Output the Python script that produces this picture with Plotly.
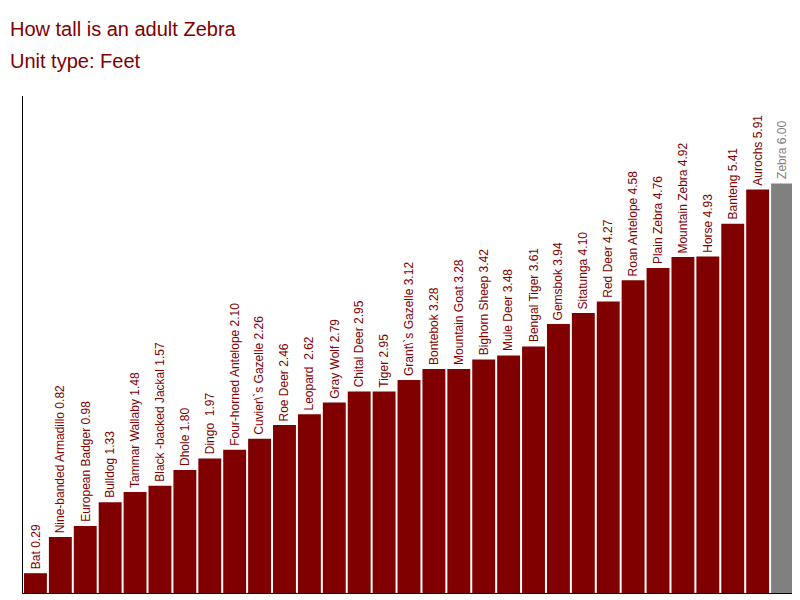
import plotly.graph_objects as go

animals = ["Bat", "Nine-banded Armadillo", "European Badger", "Bulldog", "Tammar Wallaby",
           "Black -backed Jackal", "Dhole", "Dingo ", "Four-horned Antelope", "Cuvier\\`s Gazelle",
           "Roe Deer", "Leopard ", "Gray Wolf", "Chital Deer", "Tiger", "Grant\\`s Gazelle",
           "Bontebok", "Mountain Goat", "Bighorn Sheep", "Mule Deer", "Bengal Tiger", "Gemsbok",
           "Sitatunga", "Red Deer", "Roan Antelope", "Plain Zebra", "Mountain Zebra", "Horse",
           "Banteng", "Aurochs", "Zebra"]
heights = [0.29, 0.82, 0.98, 1.33, 1.48, 1.57, 1.80, 1.97, 2.10, 2.26, 2.46, 2.62, 2.79, 2.95,
           2.95, 3.12, 3.28, 3.28, 3.42, 3.48, 3.61, 3.94, 4.10, 4.27, 4.58, 4.76, 4.92, 4.93,
           5.41, 5.91, 6.00]

xs = list(range(len(animals)))
colors = ["#800000"] * (len(animals) - 1) + ["#808080"]

fig = go.Figure(go.Bar(x=xs, y=heights, marker_color=colors, marker_line_width=0))

for i, (a, h) in enumerate(zip(animals, heights)):
    fig.add_annotation(x=i, y=h, text=f"{a} {h:.2f}", textangle=-90, showarrow=False,
                       xanchor="center", yanchor="bottom", yshift=2,
                       font=dict(size=12, color="#808080" if a == "Zebra" else "#800000"))

fig.add_annotation(xref="paper", yref="paper", x=-0.02, y=1.0, yshift=80, xanchor="left", yanchor="top",
                   text="How tall is an adult Zebra", showarrow=False,
                   font=dict(size=20, color="#800000"))
fig.add_annotation(xref="paper", yref="paper", x=-0.02, y=1.0, yshift=48, xanchor="left", yanchor="top",
                   text="Unit type: Feet", showarrow=False,
                   font=dict(size=20, color="#800000"))

fig.update_layout(
    width=800, height=600, margin=dict(l=15, r=13, t=88, b=15),
    plot_bgcolor="white", paper_bgcolor="white", bargap=0.08, showlegend=False,
    font=dict(family="Arial, Liberation Sans, sans-serif"),
    xaxis=dict(range=[-0.5, len(animals) - 0.5], showticklabels=False, showgrid=False,
               showline=True, linecolor="black", zeroline=False),
    yaxis=dict(range=[0, 7.28], showticklabels=False, showgrid=False,
               showline=True, linecolor="black", zeroline=False),
)

fig.write_html("out.html")
